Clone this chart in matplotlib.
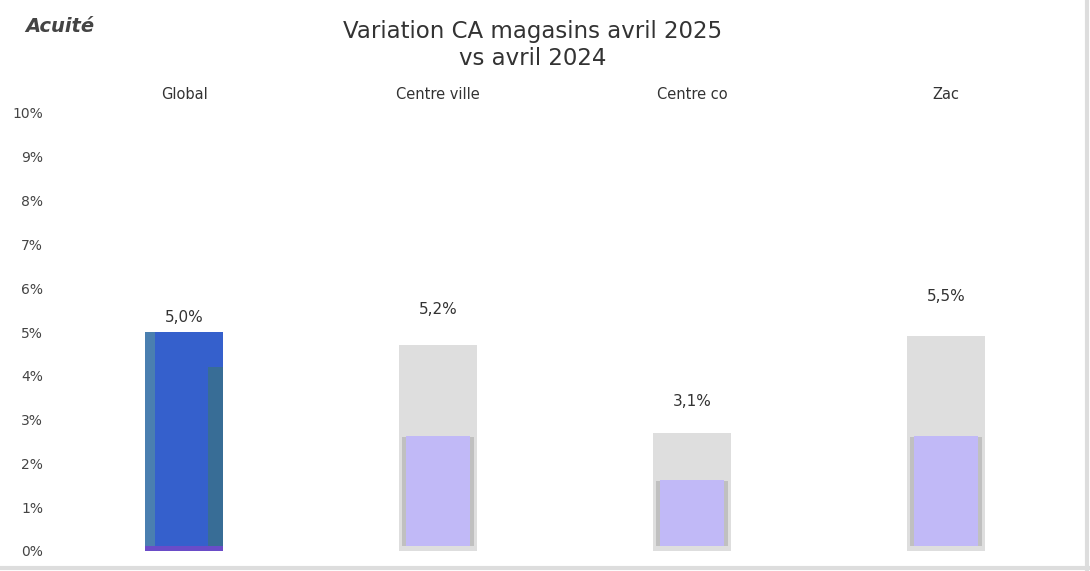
import matplotlib
matplotlib.use("Agg")
import matplotlib.pyplot as plt
import numpy as np

# data
categories = ["Global", "Centre ville", "Centre co", "Zac"]
variation = [5.0, 5.2, 3.1, 5.5]          # value labels (%)
ghost_height = [5.0, 4.7, 2.7, 4.9]       # light grey bar heights (%)
fill_height = [5.0, 2.5, 1.5, 2.5]        # coloured bar heights (%)
yticks = list(range(0, 11))

fig = plt.figure(figsize=(10.9, 5.71), dpi=100)
ax = fig.add_axes([57 / 1090, 20 / 571, 1016 / 1090, 438 / 571])

x = np.arange(len(categories))
width = 0.31

for i in range(len(categories)):
    if i == 0:
        ax.bar(x[i], fill_height[i], width=width, color="#3560cc", zorder=2)
        # side shading of the global bar
        ax.bar(x[i] - width / 2 + 0.02, fill_height[i], width=0.04, color="#4a7fb0", zorder=3)
        ax.bar(x[i] + width / 2 - 0.03, fill_height[i] - 0.8, width=0.06, color="#386d96", zorder=3)
        ax.bar(x[i], 0.12, width=width, color="#6a4cc8", zorder=4)
    else:
        ax.bar(x[i], ghost_height[i], width=width, color="#dedede", zorder=1)
        ax.bar(x[i], fill_height[i] + 0.1, width=width * 0.92, color="#c0c0c0", zorder=2)
        ax.bar(x[i], fill_height[i], width=width * 0.82, bottom=0.12, color="#c1b9f7", zorder=3)
        ax.bar(x[i], 0.12, width=width, color="#dedede", zorder=4)
    ax.text(x[i], variation[i] + 0.15, f"{variation[i]:.1f}%".replace(".", ","),
            ha="center", va="bottom", fontsize=11, color="#333333")

ax.set_xlim(-0.5, len(categories) - 0.5)
ax.set_ylim(0, 10)
ax.set_yticks(yticks)
ax.set_yticklabels([f"{t}%" for t in yticks], fontsize=10, color="#444444")
ax.tick_params(axis="y", length=0, pad=10)
ax.set_xticks(x)
ax.set_xticklabels(categories, fontsize=10.5, color="#333333")
ax.xaxis.tick_top()
ax.tick_params(axis="x", length=0, pad=8)
for s in ax.spines.values():
    s.set_visible(False)

fig.text(533 / 1090, 1 - 45 / 571, "Variation CA magasins avril 2025\nvs avril 2024",
         ha="center", va="center", fontsize=16.5, color="#333333", linespacing=1.25)
fig.text(25 / 1090, 1 - 27 / 571, "Acuité", ha="left", va="center", fontsize=14,
         fontweight="bold", fontstyle="italic", color="#444444")

# light frame lines at bottom and right
fig.add_artist(plt.Line2D([0, 1], [3 / 571, 3 / 571], color="#dddddd", lw=3))
fig.add_artist(plt.Line2D([1 - 3 / 1090, 1 - 3 / 1090], [0, 1], color="#dddddd", lw=3))

fig.savefig("out.png", dpi=100)
